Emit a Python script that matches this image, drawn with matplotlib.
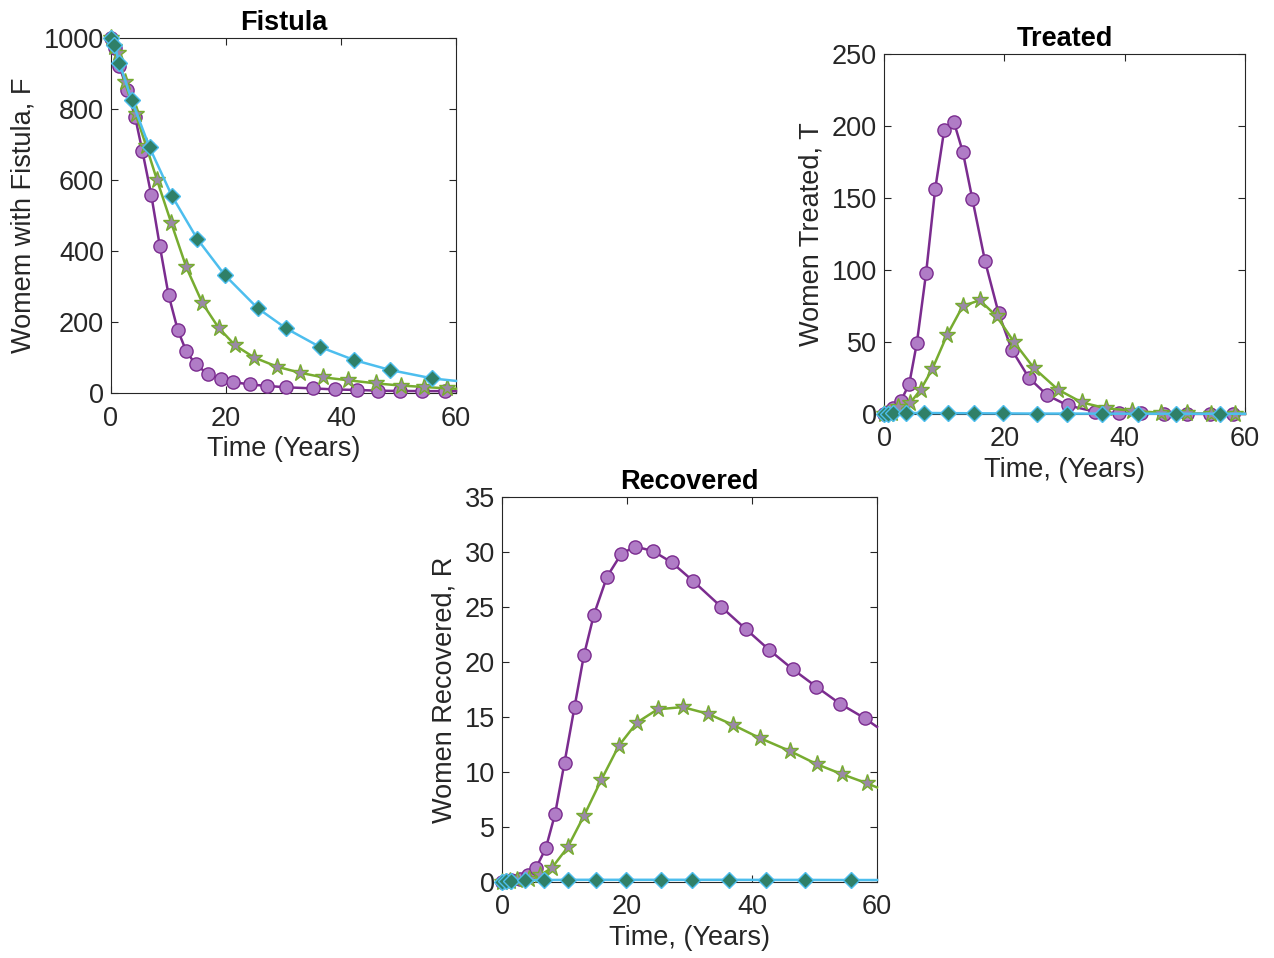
import matplotlib
matplotlib.use("Agg")
import matplotlib.pyplot as plt

plt.rcParams['font.family'] = ['Liberation Sans', 'DejaVu Sans']

# ---- time grids (solver output points; last entry = end of line at t=60) ----
t_circ = [0, 0.7, 1.45, 2.8, 4.2, 5.45, 7.0, 8.5, 10.0, 11.6, 13.1, 14.7, 16.8, 19.05,
          21.25, 24.1, 27.15, 30.5, 35.1, 39.0, 42.75, 46.5, 50.3, 54.1, 58.0, 60]
t_star = [0, 0.6, 1.3, 2.4, 4.3, 6.1, 8.0, 10.5, 13.1, 15.9, 18.7, 21.6, 24.9, 28.9,
          32.9, 36.9, 41.2, 46.1, 50.4, 54.4, 58.4, 60]
t_diam = [0, 0.6, 1.45, 3.6, 6.7, 10.6, 15.0, 19.8, 25.5, 30.45, 36.3, 42.25, 48.5, 55.9, 60]

# ---- Fistula F ----
F_circ = [1000, 971, 922, 854, 777, 682, 558, 413, 277, 178, 117, 81, 54, 39,
          31, 24, 20, 16, 13, 10, 8.5, 6.5, 5.6, 5.4, 5.2, 5]
F_star = [1000, 975, 957, 875, 785, 697, 600, 478, 354, 253, 184, 134, 100, 74,
          57, 44, 36, 27, 21, 17, 13, 12]
F_diam = [1000, 980, 930, 825, 692, 555, 434, 332, 239, 182, 130, 93, 65, 41, 34]

# ---- Treated T ----
T_circ = [0, 1.5, 4.4, 9, 21, 49, 98, 156, 197, 203, 182, 149, 106, 70,
          44.5, 25, 13, 6, 1.6, 0.5, 0.4, 0.2, 0.1, 0.1, 0.05, 0.05]
T_star = [0, 0.3, 1.0, 5, 7.4, 17, 31, 55, 75, 79, 68, 50, 32, 17,
          8, 4, 2.3, 0.8, 0.4, 0.2, 0.1, 0.1]
T_diam = [0, 0.3, 0.5, 0.7, 0.7, 0.6, 0.5, 0.4, 0.3, 0.3, 0.25, 0.2, 0.2, 0.15, 0.15]

# ---- Recovered R ----
R_circ = [0, 0.05, 0.15, 0.3, 0.6, 1.3, 3.05, 6.2, 10.85, 15.9, 20.6, 24.3, 27.75, 29.8,
          30.5, 30.1, 29.06, 27.4, 25.0, 23.0, 21.1, 19.35, 17.75, 16.2, 14.9, 14.1]
R_star = [0, 0.0, 0.05, 0.15, 0.3, 0.6, 1.3, 3.15, 6.0, 9.3, 12.4, 14.5, 15.7, 15.9,
          15.3, 14.3, 13.1, 11.9, 10.7, 9.8, 8.97, 8.6]
R_diam = [0, 0.05, 0.1, 0.15, 0.18, 0.2, 0.2, 0.2, 0.2, 0.2, 0.2, 0.19, 0.19, 0.18, 0.18]

titles = ["Fistula", "Treated", "Recovered"]
xlabels = ["Time (Years)", "Time, (Years)", "Time, (Years)"]
ylabels = ["Womem with Fistula, F", "Women Treated, T", "Women Recovered, R"]
ylims = [(0, 1000), (0, 250), (0, 35)]
yticks = [list(range(0, 1001, 200)), list(range(0, 251, 50)), list(range(0, 36, 5))]
xticks = [0, 20, 40, 60]

fig = plt.figure(figsize=(12.74, 9.58), dpi=100)
rects = [
    [111/1274, 1-393/958, 345/1274, 355/958],
    [884/1274, 1-414/958, 361/1274, 360/958],
    [502/1274, 1-882/958, 375/1274, 385/958],
]
data = [(F_circ, F_star, F_diam), (T_circ, T_star, T_diam), (R_circ, R_star, R_diam)]

FS = 19.5
AXC = '#262626'
for i in range(3):
    ax = fig.add_axes(rects[i])
    yc, ys, yd = data[i]
    ax.plot(t_circ, yc, '-o', color='#7B2C8F', lw=1.8, ms=9.5,
            mfc='#B07CC6', mec='#7B2C8F', mew=1.0,
            markevery=list(range(len(t_circ) - 1)), clip_on=False, zorder=3)
    ax.plot(t_star, ys, '-*', color='#77AC30', lw=1.8, ms=12.5,
            mfc='#9A89A6', mec='#77AC30', mew=1.0,
            markevery=list(range(len(t_star) - 1)), clip_on=False, zorder=4)
    ax.plot(t_diam, yd, '-D', color='#4DBEEE', lw=1.8, ms=8,
            mfc='#2F8068', mec='#4DBEEE', mew=1.0,
            markevery=list(range(len(t_diam) - 1)), clip_on=False, zorder=5)
    ax.set_xlim(0, 60)
    ax.set_ylim(*ylims[i])
    ax.set_xticks(xticks)
    ax.set_yticks(yticks[i])
    ax.tick_params(direction='in', length=5, width=0.8, top=True, right=True,
                   labelsize=FS, colors=AXC)
    ax.tick_params(axis='x', pad=9)
    ax.tick_params(axis='y', pad=5)
    for sp in ax.spines.values():
        sp.set_color(AXC)
        sp.set_linewidth(0.8)
    ax.set_title(titles[i], fontsize=FS, fontweight='bold', color='black', pad=6)
    ax.set_xlabel(xlabels[i], fontsize=FS, color=AXC, labelpad=3)
    ax.set_ylabel(ylabels[i], fontsize=FS, color=AXC, labelpad=5)

fig.savefig("out.png", dpi=100)
